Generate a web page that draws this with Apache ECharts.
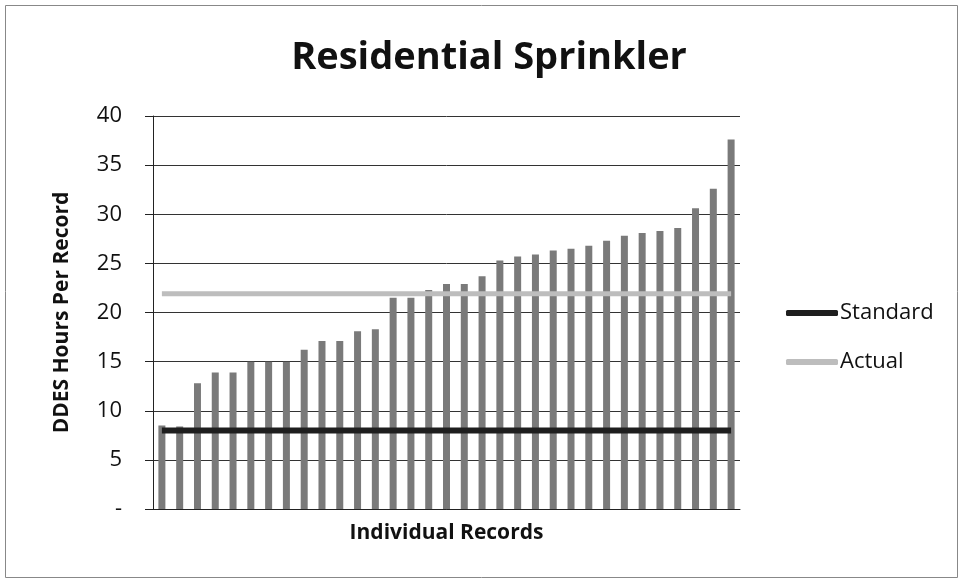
<!DOCTYPE html>
<html>
<head>
<meta charset="utf-8">
<script src="https://cdn.jsdelivr.net/npm/echarts@6/dist/echarts.min.js"></script>
<style>
  html, body { margin: 0; padding: 0; background: #fff; }
  #main { width: 962px; height: 581px; }
</style>
</head>
<body>
<div id="main"></div>
<script>
// one bar per record, sorted ascending as in the source chart
var records = [];
for (var i = 1; i <= 33; i++) records.push('R' + i);
var hours = [8.5, 8.4, 12.8, 13.9, 13.9, 15.0, 15.0, 15.0, 16.2, 17.1, 17.1,
  18.1, 18.3, 21.5, 21.5, 22.3, 22.9, 22.9, 23.7, 25.3, 25.7, 25.9, 26.3,
  26.5, 26.8, 27.3, 27.8, 28.1, 28.3, 28.6, 30.6, 32.6, 37.6];
var standardValue = 8.0;
var actualValue = 21.9;
var yTicks = [0, 5, 10, 15, 20, 25, 30, 35, 40];

var font = '"Open Sans", sans-serif';
var myChart = echarts.init(document.getElementById('main'));
myChart.setOption({
  backgroundColor: '#fff',
  animation: false,
  textStyle: { fontFamily: font },
  graphic: [{
    type: 'rect',
    shape: { x: 5.5, y: 5.5, width: 952, height: 572 },
    style: { fill: 'none', stroke: '#888', lineWidth: 1 }
  }],
  title: {
    text: 'Residential Sprinkler',
    left: 484, top: 34, textAlign: 'center',
    textStyle: { fontFamily: font, fontWeight: 'bold', fontSize: 38, color: '#111' }
  },
  legend: {
    orient: 'vertical',
    left: 781, top: 297,
    itemWidth: 52, itemHeight: 6, itemGap: 27,
    icon: 'roundRect',
    textStyle: { fontFamily: font, fontSize: 22, color: '#111', padding: [0, 0, 0, -3] },
    data: ['Standard', 'Actual']
  },
  grid: { left: 153, right: 222, top: 116, bottom: 72 },
  xAxis: {
    type: 'category',
    data: records,
    name: 'Individual Records',
    nameLocation: 'middle',
    nameGap: 14,
    nameTextStyle: { fontFamily: font, fontWeight: 'bold', fontSize: 21, color: '#111' },
    axisLine: { lineStyle: { color: '#222', width: 1 } },
    axisTick: { show: false },
    axisLabel: { show: false }
  },
  yAxis: {
    type: 'value',
    min: yTicks[0], max: yTicks[yTicks.length - 1], interval: 5,
    name: 'DDES Hours Per Record',
    nameLocation: 'middle',
    nameGap: 80,
    nameTextStyle: { fontFamily: font, fontWeight: 'bold', fontSize: 21, color: '#111' },
    axisLine: { show: true, lineStyle: { color: '#222', width: 1 } },
    axisTick: { show: true, length: 8, lineStyle: { color: '#222' } },
    axisLabel: {
      margin: 31, fontSize: 22, color: '#111', fontFamily: font,
      formatter: function (v) { return v === 0 ? '-' : v; }
    },
    splitLine: { lineStyle: { color: '#333', width: 1 } }
  },
  series: [{
    name: 'Hours',
    type: 'bar',
    data: hours,
    barWidth: 7,
    itemStyle: { color: '#7a7a7a' },
    z: 2
  }, {
    name: 'Standard',
    type: 'line',
    data: [[records[0], standardValue], [records[records.length - 1], standardValue]],
    symbol: 'none',
    lineStyle: { color: '#1e1e1e', width: 6 },
    itemStyle: { color: '#1e1e1e' },
    z: 3
  }, {
    name: 'Actual',
    type: 'line',
    data: [[records[0], actualValue], [records[records.length - 1], actualValue]],
    symbol: 'none',
    lineStyle: { color: '#bdbdbd', width: 5 },
    itemStyle: { color: '#bdbdbd' },
    z: 3
  }]
});
</script>
</body>
</html>
